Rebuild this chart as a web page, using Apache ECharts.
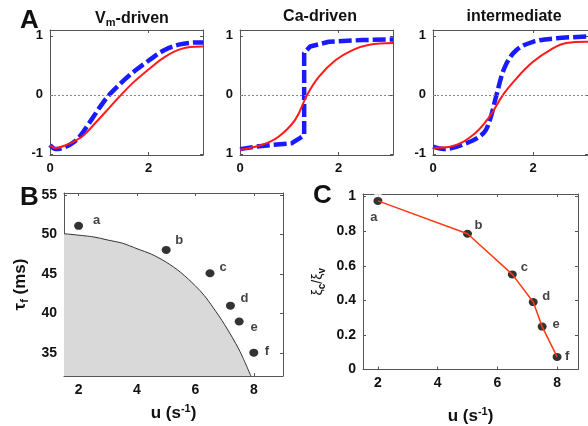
<!DOCTYPE html>
<html>
<head>
<meta charset="utf-8">
<script src="https://cdn.jsdelivr.net/npm/echarts@6/dist/echarts.min.js"></script>
<style>
html, body { margin: 0; padding: 0; background: #fff; }
#chart { width: 588px; height: 426px; }
</style>
</head>
<body>
<div id="chart"></div>
<script>
// panel A: normalised traces vs time, [x, y]
var vmRed = [[0,-0.86],[0.12,-0.9],[0.3,-0.86],[0.63,-0.72],[0.97,-0.43],[1.2,-0.22],[1.44,0],[1.7,0.22],[1.98,0.42],[2.32,0.64],[2.66,0.78],[3.06,0.82],[3.1,0.82]];
var vmBlue = [[0,-0.85],[0.12,-0.92],[0.5,-0.79],[0.8,-0.47],[1.0,-0.22],[1.2,0],[1.5,0.25],[1.74,0.42],[1.98,0.57],[2.32,0.76],[2.66,0.86],[3.06,0.89],[3.1,0.89]];
var caRed = [[0,-0.93],[0.44,-0.85],[0.78,-0.71],[1.12,-0.42],[1.36,0],[1.6,0.31],[1.94,0.59],[2.28,0.76],[2.62,0.85],[3.1,0.88]];
var caBlue = [[0,-0.92],[0.31,-0.88],[0.65,-0.85],[1.05,-0.82],[1.22,-0.73],[1.3,-0.68],[1.3,0.71],[1.42,0.82],[1.8,0.9],[2.48,0.93],[3.1,0.94]];
var imRed = [[0,-0.9],[0.34,-0.88],[0.8,-0.68],[1.13,-0.37],[1.4,0],[1.67,0.28],[2.0,0.56],[2.34,0.76],[2.67,0.88],[3.07,0.9],[3.1,0.9]];
var imBlue = [[0,-0.88],[0.21,-0.92],[0.67,-0.82],[1.01,-0.65],[1.14,-0.42],[1.27,0],[1.44,0.48],[1.67,0.76],[2.0,0.9],[2.47,0.96],[3.1,0.99]];
var aTitles = ['{b|V}{s|m}{b|-driven}', 'Ca-driven', 'intermediate'];
var aXTicks = [0, 2];
var aYTicks = [-1, 0, 1];

// panel B and C: six cases a..f
var caseNames = ['a', 'b', 'c', 'd', 'e', 'f'];
var caseU = [2, 5, 6.5, 7.2, 7.5, 8];
var caseTau = [51.1, 48.05, 45.1, 41, 39, 35.05];
var caseRatio = [0.975, 0.785, 0.55, 0.39, 0.248, 0.073];
// boundary of the grey region in B
var boundU = [1.5, 2.5, 3, 3.5, 4, 4.5, 5, 5.5, 6, 6.3, 6.6, 7, 7.5, 7.9];
var boundTau = [50.1, 49.7, 49.3, 48.9, 48.2, 47.5, 46.5, 45.2, 43.5, 42.3, 40.8, 38.6, 35.4, 32.1];
var bXTicks = [2, 4, 6, 8];
var bYTicks = [35, 40, 45, 50, 55];
var cXTicks = [2, 4, 6, 8];
var cYTicks = [0, 0.2, 0.4, 0.6, 0.8, 1];

// label shifts for the letters next to the dots (style only)
var shiftB = [[18,-5],[13,-9],[13,-6],[14,-7],[15,6],[13,-1]];
var shiftC = [[-4,17],[11,-8],[12,-7],[13,-6],[14,-2],[10,0]];

var FONT = '"Liberation Sans", Arial, sans-serif';
var BOX = '#555';

var chart = echarts.init(document.getElementById('chart'));

var grids = [], xAxes = [], yAxes = [], series = [];

function addPanel(g, xr, yr, xt, yt, fs, yFmt) {
	grids.push(g);
	var gi = grids.length - 1;
	var line = { show: true, onZero: false, lineStyle: { color: BOX, width: 1 } };
	var tick = { show: true, inside: true, length: 3, lineStyle: { color: BOX } };
	var lab = { color: '#111', fontFamily: FONT, fontWeight: 'bold', fontSize: fs };
	xAxes.push({
		type: 'value', gridIndex: gi, min: xr[0], max: xr[1], position: 'bottom',
		axisLine: line, splitLine: { show: false },
		axisTick: Object.assign({ customValues: xt }, tick),
		axisLabel: Object.assign({ customValues: xt, margin: 7 }, lab)
	});
	xAxes.push({
		type: 'value', gridIndex: gi, min: xr[0], max: xr[1], position: 'top',
		axisLine: line, splitLine: { show: false },
		axisTick: Object.assign({ customValues: xt }, tick),
		axisLabel: { show: false }
	});
	yAxes.push({
		type: 'value', gridIndex: gi, min: yr[0], max: yr[1], position: 'left',
		axisLine: line, splitLine: { show: false },
		axisTick: Object.assign({ customValues: yt }, tick),
		axisLabel: Object.assign({ customValues: yt, margin: 7, formatter: yFmt }, lab)
	});
	yAxes.push({
		type: 'value', gridIndex: gi, min: yr[0], max: yr[1], position: 'right',
		axisLine: line, splitLine: { show: false },
		axisTick: Object.assign({ customValues: yt }, tick),
		axisLabel: { show: false }
	});
	return gi;
}

// --- panel A ---
var aLeft = [50, 240, 433];
var aWidth = [153, 153, 155];
var aData = [[vmRed, vmBlue], [caRed, caBlue], [imRed, imBlue]];
for (var i = 0; i < 3; i++) {
	// the middle panel shows its bottom label as "1" in the original
	var fmt = (i == 1) ? function (v) { return String(Math.abs(v)); } : function (v) { return String(v); };
	var gi = addPanel({ left: aLeft[i], top: 30, width: aWidth[i], height: 125 },
		[0, 3.1], [-1.02, 1.1], aXTicks, aYTicks, 13, fmt);
	series.push({
		type: 'line', xAxisIndex: gi * 2, yAxisIndex: gi * 2, data: aData[i][1],
		showSymbol: false, smooth: i == 1 ? false : 0.35, silent: true,
		lineStyle: { color: '#1a1aff', width: 4.5, type: [13, 4], cap: 'butt' }
	});
	series.push({
		type: 'line', xAxisIndex: gi * 2, yAxisIndex: gi * 2, data: aData[i][0],
		showSymbol: false, smooth: 0.4, silent: true,
		lineStyle: { color: '#ff1a1a', width: 2 },
		markLine: {
			silent: true, symbol: 'none', label: { show: false },
			lineStyle: { color: '#888', width: 1, type: [2, 2] },
			data: [{ yAxis: 0 }]
		}
	});
}

// --- panel B ---
var gB = addPanel({ left: 64, top: 193, width: 219, height: 183 },
	[1.5, 9], [32.1, 55.25], bXTicks, bYTicks, 14);
xAxes[gB * 2].name = '{n|u (s}{p|-1}{n|)}';
xAxes[gB * 2].nameLocation = 'middle';
xAxes[gB * 2].nameGap = 27;
xAxes[gB * 2].nameTextStyle = { rich: {
	n: { fontFamily: FONT, fontWeight: 'bold', fontSize: 17, color: '#111' },
	p: { fontFamily: FONT, fontWeight: 'bold', fontSize: 11, color: '#111', padding: [0, 0, 9, 0] }
} };
yAxes[gB * 2].name = '{n|\u03c4}{s|f}{n| (ms)}';
yAxes[gB * 2].nameLocation = 'middle';
yAxes[gB * 2].nameGap = 34;
yAxes[gB * 2].nameTextStyle = { rich: {
	n: { fontFamily: FONT, fontWeight: 'bold', fontSize: 17, color: '#111' },
	s: { fontFamily: FONT, fontWeight: 'bold', fontSize: 11, color: '#111', padding: [9, 0, 0, 0] }
} };

series.push({
	type: 'line', xAxisIndex: gB * 2, yAxisIndex: gB * 2, silent: true,
	data: boundU.map(function (u, k) { return [u, boundTau[k]]; }),
	showSymbol: false, smooth: 0.3,
	lineStyle: { color: '#333', width: 1 },
	areaStyle: { color: '#d9d9d9', opacity: 1, origin: 'start' }
});
series.push({
	type: 'scatter', xAxisIndex: gB * 2, yAxisIndex: gB * 2, silent: true,
	symbol: 'circle', symbolSize: [9, 8], itemStyle: { color: '#000' },
	data: caseU.map(function (u, k) {
		return { value: [u, caseTau[k]], name: caseNames[k],
			label: { show: true, position: 'inside', offset: shiftB[k], formatter: '{b}',
				color: '#111', fontFamily: FONT, fontWeight: 'bold', fontSize: 13 } };
	})
});

// --- panel C ---
var gC = addPanel({ left: 363, top: 194, width: 215, height: 183 },
	[1.5, 8.7], [0, 1.015], cXTicks, cYTicks, 14);
xAxes[gC * 2].name = '{n|u (s}{p|-1}{n|)}';
xAxes[gC * 2].nameLocation = 'middle';
xAxes[gC * 2].nameGap = 37;
xAxes[gC * 2].nameTextStyle = xAxes[gB * 2].nameTextStyle;
yAxes[gC * 2].name = '{n|\u03be}{s|c}{n|/\u03be}{s|v}';
yAxes[gC * 2].nameLocation = 'middle';
yAxes[gC * 2].nameGap = 36;
yAxes[gC * 2].nameTextStyle = { rich: {
	n: { fontFamily: FONT, fontSize: 14, color: '#111' },
	s: { fontFamily: FONT, fontWeight: 'bold', fontSize: 10, color: '#111', padding: [7, 0, 0, 0] }
} };

var cPoints = caseU.map(function (u, k) { return [u, caseRatio[k]]; });
series.push({
	type: 'line', xAxisIndex: gC * 2, yAxisIndex: gC * 2, silent: true,
	data: cPoints, showSymbol: false, lineStyle: { color: '#ff3814', width: 1.5 }
});
// white halo behind each dot, so the line stops short of it
series.push({
	type: 'scatter', xAxisIndex: gC * 2, yAxisIndex: gC * 2, silent: true,
	symbol: 'circle', symbolSize: 15, itemStyle: { color: '#fff' }, data: cPoints
});
series.push({
	type: 'scatter', xAxisIndex: gC * 2, yAxisIndex: gC * 2, silent: true,
	symbol: 'circle', symbolSize: [9, 8], itemStyle: { color: '#000' },
	data: caseU.map(function (u, k) {
		return { value: [u, caseRatio[k]], name: caseNames[k],
			label: { show: true, position: 'inside', offset: shiftC[k], formatter: '{b}',
				color: '#111', fontFamily: FONT, fontWeight: 'bold', fontSize: 13 } };
	})
});

var titleStyle = { fontFamily: FONT, fontWeight: 'bold', fontSize: 16, color: '#111',
	rich: {
		b: { fontFamily: FONT, fontWeight: 'bold', fontSize: 16, color: '#111' },
		s: { fontFamily: FONT, fontWeight: 'bold', fontSize: 11, color: '#111', padding: [8, 0, 0, 0] }
	} };
var titles = [
	{ text: 'A', left: 15, top: 3, textStyle: { fontFamily: FONT, fontWeight: 'bold', fontSize: 26, color: '#111' } },
	{ text: 'B', left: 15, top: 180, textStyle: { fontFamily: FONT, fontWeight: 'bold', fontSize: 26, color: '#111' } },
	{ text: 'C', left: 308, top: 178, textStyle: { fontFamily: FONT, fontWeight: 'bold', fontSize: 26, color: '#111' } }
];
var tCenter = [127, 315, 509];
for (var t = 0; t < 3; t++) {
	titles.push({ text: aTitles[t], left: tCenter[t], top: 4, textAlign: 'center', textStyle: titleStyle });
}

chart.setOption({
	animation: false,
	title: titles,
	grid: grids,
	xAxis: xAxes,
	yAxis: yAxes,
	series: series
});
</script>
</body>
</html>
